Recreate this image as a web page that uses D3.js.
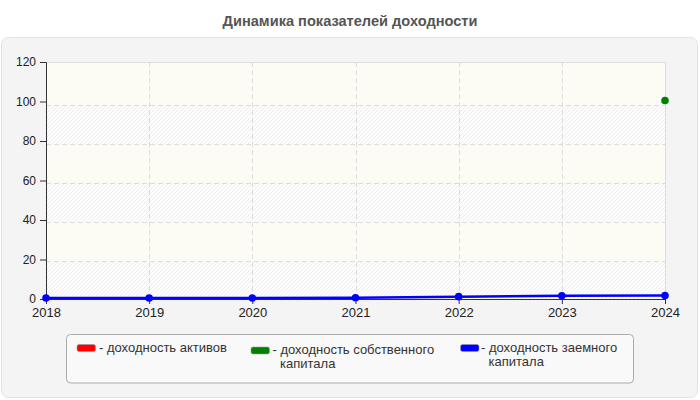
<!DOCTYPE html>
<html>
<head>
<meta charset="utf-8">
<script src="https://cdn.jsdelivr.net/npm/d3@7"></script>
<style>
  body { margin: 0; background: #fff; }
  svg { display: block; font-family: "Liberation Sans", Arial, sans-serif; }
</style>
</head>
<body>
<script>
// данные графика
const years = [2018, 2019, 2020, 2021, 2022, 2023, 2024];
const yTicks = [0, 20, 40, 60, 80, 100, 120];
const assetsReturn = [null, null, null, null, null, null, null];
const equityReturn = [null, null, null, null, null, null, 100.5];
const debtReturn = [0.5, 0.5, 0.5, 0.6, 1.2, 1.6, 1.8];

const seriesList = [
  { name: "доходность активов", lines: ["- доходность активов"], color: "#ff0000", values: assetsReturn },
  { name: "доходность собственного капитала", lines: ["- доходность собственного", "капитала"], color: "#008000", values: equityReturn },
  { name: "доходность заемного капитала", lines: ["- доходность заемного", "капитала"], color: "#0000ff", values: debtReturn }
];

const W = 700, H = 400;
const plot = { left: 46, right: 665, top: 62, bottom: 299 };

const svg = d3.select("body").append("svg")
  .attr("width", W)
  .attr("height", H);

const defs = svg.append("defs");
const pat = defs.append("pattern")
  .attr("id", "hatch")
  .attr("patternUnits", "userSpaceOnUse")
  .attr("width", 4)
  .attr("height", 4);
pat.append("rect").attr("width", 4).attr("height", 4).attr("fill", "#fdfdfd");
pat.append("path")
  .attr("d", "M-1,1 l2,-2 M0,4 l4,-4 M3,5 l2,-2")
  .attr("stroke", "#eeeeee")
  .attr("stroke-width", 1);

svg.append("text")
  .attr("x", W / 2)
  .attr("y", 26)
  .attr("text-anchor", "middle")
  .style("font-size", "14.6px")
  .style("font-weight", "bold")
  .style("fill", "#555")
  .text("Динамика показателей доходности");

// внешняя панель
svg.append("rect")
  .attr("x", 1.5)
  .attr("y", 37.5)
  .attr("width", 696)
  .attr("height", 360)
  .attr("rx", 7)
  .attr("fill", "#f4f4f4")
  .attr("stroke", "#e2e2e2");

const x = d3.scalePoint().domain(years).range([plot.left, plot.right]);
const y = d3.scaleLinear().domain([0, 120]).range([plot.bottom, plot.top]);
// сетка слегка смещена относительно делений
const yGrid = d3.scaleLinear().domain([0, 120]).range([300, 66]);

svg.append("rect")
  .attr("x", plot.left)
  .attr("y", plot.top)
  .attr("width", plot.right - plot.left)
  .attr("height", plot.bottom - plot.top)
  .attr("fill", "#fcfcf4");

// полосы со штриховкой
const bands = [[0, 20], [40, 60], [80, 100]];
svg.selectAll(".band")
  .data(bands)
  .enter()
  .append("rect")
  .attr("class", "band")
  .attr("x", plot.left)
  .attr("width", plot.right - plot.left)
  .attr("y", d => yGrid(d[1]))
  .attr("height", d => Math.min(plot.bottom, yGrid(d[0])) - yGrid(d[1]))
  .attr("fill", "url(#hatch)");

svg.append("line")
  .attr("x1", plot.left).attr("x2", plot.right)
  .attr("y1", plot.top + 0.5).attr("y2", plot.top + 0.5)
  .attr("stroke", "#dddddd");
svg.append("line")
  .attr("x1", plot.right + 0.5).attr("x2", plot.right + 0.5)
  .attr("y1", plot.top).attr("y2", plot.bottom)
  .attr("stroke", "#dddddd");

svg.selectAll(".hgrid")
  .data(yTicks.filter(t => t > 0 && t < 120))
  .enter()
  .append("line")
  .attr("class", "hgrid")
  .attr("x1", plot.left).attr("x2", plot.right)
  .attr("y1", d => Math.round(yGrid(d)) + 0.5)
  .attr("y2", d => Math.round(yGrid(d)) + 0.5)
  .attr("stroke", "#dcdcdc")
  .attr("stroke-dasharray", "5,3");

svg.selectAll(".vgrid")
  .data(years.slice(1, -1))
  .enter()
  .append("line")
  .attr("class", "vgrid")
  .attr("x1", d => Math.round(x(d)) + 0.5)
  .attr("x2", d => Math.round(x(d)) + 0.5)
  .attr("y1", plot.top).attr("y2", plot.bottom)
  .attr("stroke", "#dcdcdc")
  .attr("stroke-dasharray", "5,3");

// оси
const yAxis = svg.append("g")
  .attr("transform", `translate(${plot.left},0)`)
  .call(d3.axisLeft(y).tickValues(yTicks).tickSize(6).tickPadding(4));
yAxis.selectAll("text").style("font-size", "12px").style("fill", "#222");

const xAxis = svg.append("g")
  .attr("transform", `translate(0,${plot.bottom})`)
  .call(d3.axisBottom(x).tickSize(5).tickPadding(4).tickSizeOuter(0));
xAxis.selectAll("text").style("font-size", "13px").style("fill", "#222");

[yAxis, xAxis].forEach(a => {
  a.select(".domain").attr("stroke", "#333");
  a.selectAll(".tick line").attr("stroke", "#333");
});

// линии и точки
const line = d3.line()
  .defined(d => d.v !== null)
  .x(d => x(d.year))
  .y(d => y(d.v));

seriesList.forEach(s => {
  const pts = years.map((yr, i) => ({ year: yr, v: s.values[i] }));
  svg.append("path")
    .datum(pts)
    .attr("fill", "none")
    .attr("stroke", s.color)
    .attr("stroke-width", 2.5)
    .attr("d", line);
  svg.selectAll(null)
    .data(pts.filter(p => p.v !== null))
    .enter()
    .append("circle")
    .attr("cx", d => x(d.year))
    .attr("cy", d => y(d.v))
    .attr("r", 3.8)
    .attr("fill", s.color);
});

// легенда
svg.append("rect")
  .attr("x", 66.5)
  .attr("y", 334.5)
  .attr("width", 567)
  .attr("height", 48.5)
  .attr("rx", 4)
  .attr("fill", "#f9f9f9")
  .attr("stroke", "#aaaaaa");

const legendPos = [
  { sx: 77, sy: 344.5, tx: 99 },
  { sx: 251, sy: 347, tx: 272.5 },
  { sx: 460.5, sy: 344.5, tx: 481 }
];

seriesList.forEach((s, i) => {
  const p = legendPos[i];
  svg.append("rect")
    .attr("x", p.sx)
    .attr("y", p.sy)
    .attr("width", 18.5)
    .attr("height", 7)
    .attr("rx", 2)
    .attr("fill", s.color)
    .attr("stroke", "#999")
    .attr("stroke-width", 0.6);
  s.lines.forEach((ln, j) => {
    svg.append("text")
      .attr("x", j === 0 ? p.tx : p.tx + 7.5)
      .attr("y", p.sy + 7.4 + j * 13.6)
      .style("font-size", "13px")
      .style("fill", "#333")
      .text(ln);
  });
});
</script>
</body>
</html>
